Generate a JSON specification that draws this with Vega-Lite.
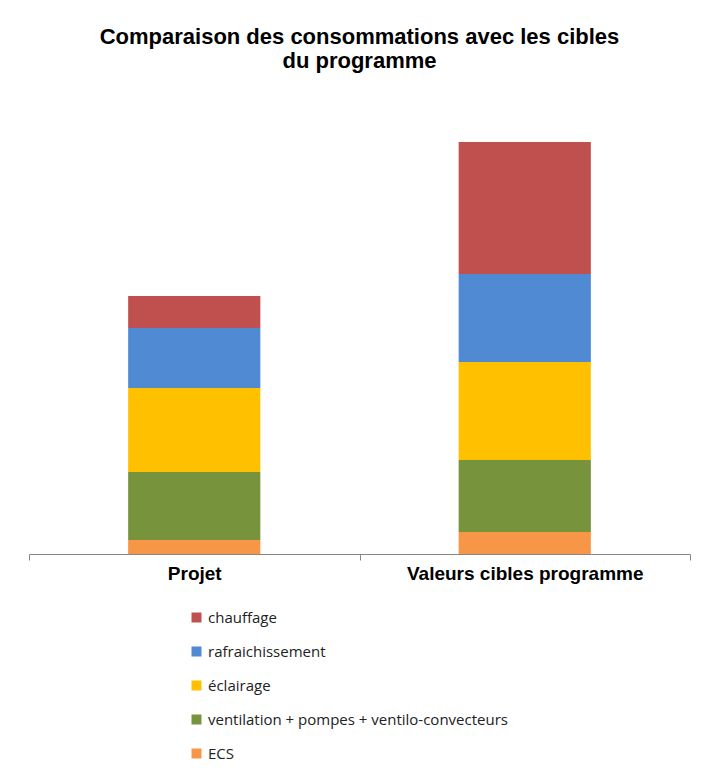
{
  "$schema": "https://vega.github.io/schema/vega-lite/v6.json",
  "width": 661,
  "height": 454,
  "autosize": "none",
  "padding": {"left": 29, "top": 100, "right": 12, "bottom": 219},
  "background": "white",
  "title": {
    "text": ["Comparaison des consommations avec les cibles", "du programme"],
    "font": "Liberation Sans",
    "fontSize": 22,
    "fontWeight": "bold",
    "color": "black",
    "lineHeight": 24,
    "anchor": "middle",
    "offset": 27
  },
  "data": {
    "values": [
      {"cat": "Projet", "poste": "ECS", "ord": 1, "val": 7},
      {"cat": "Projet", "poste": "ventilation + pompes + ventilo-convecteurs", "ord": 2, "val": 34},
      {"cat": "Projet", "poste": "éclairage", "ord": 3, "val": 42},
      {"cat": "Projet", "poste": "rafraichissement", "ord": 4, "val": 30},
      {"cat": "Projet", "poste": "chauffage", "ord": 5, "val": 16},
      {"cat": "Valeurs cibles programme", "poste": "ECS", "ord": 1, "val": 11},
      {"cat": "Valeurs cibles programme", "poste": "ventilation + pompes + ventilo-convecteurs", "ord": 2, "val": 36},
      {"cat": "Valeurs cibles programme", "poste": "éclairage", "ord": 3, "val": 49},
      {"cat": "Valeurs cibles programme", "poste": "rafraichissement", "ord": 4, "val": 44},
      {"cat": "Valeurs cibles programme", "poste": "chauffage", "ord": 5, "val": 66}
    ]
  },
  "mark": {"type": "bar", "width": {"band": 0.4}},
  "encoding": {
    "x": {
      "field": "cat",
      "type": "nominal",
      "sort": null,
      "scale": {"paddingInner": 0, "paddingOuter": 0},
      "axis": {
        "title": null,
        "labelAngle": 0,
        "labelFont": "Liberation Sans",
        "labelFontSize": 19,
        "labelFontWeight": "bold",
        "labelColor": "black",
        "labelPadding": 4,
        "labelLimit": 400,
        "domainColor": "#868686",
        "tickColor": "#868686",
        "tickSize": 6,
        "tickBand": "extent"
      }
    },
    "y": {
      "field": "val",
      "type": "quantitative",
      "stack": "zero",
      "scale": {"domain": [0, 227]},
      "axis": null
    },
    "order": {"field": "ord", "type": "quantitative", "sort": "ascending"},
    "color": {
      "field": "poste",
      "type": "nominal",
      "scale": {
        "domain": ["chauffage", "rafraichissement", "éclairage", "ventilation + pompes + ventilo-convecteurs", "ECS"],
        "range": ["#C0504D", "#4F8AD3", "#FFC000", "#77933C", "#F79646"]
      },
      "legend": {
        "title": null,
        "orient": "none",
        "legendX": 160,
        "legendY": 510,
        "symbolType": "square",
        "symbolSize": 100,
        "symbolStrokeWidth": 0,
        "symbolOpacity": 1,
        "labelFont": "Open Sans",
        "labelFontSize": 15,
        "labelColor": "#222222",
        "labelOffset": 4,
        "rowPadding": 18,
        "labelLimit": 500
      }
    }
  },
  "config": {"view": {"stroke": null}}
}
